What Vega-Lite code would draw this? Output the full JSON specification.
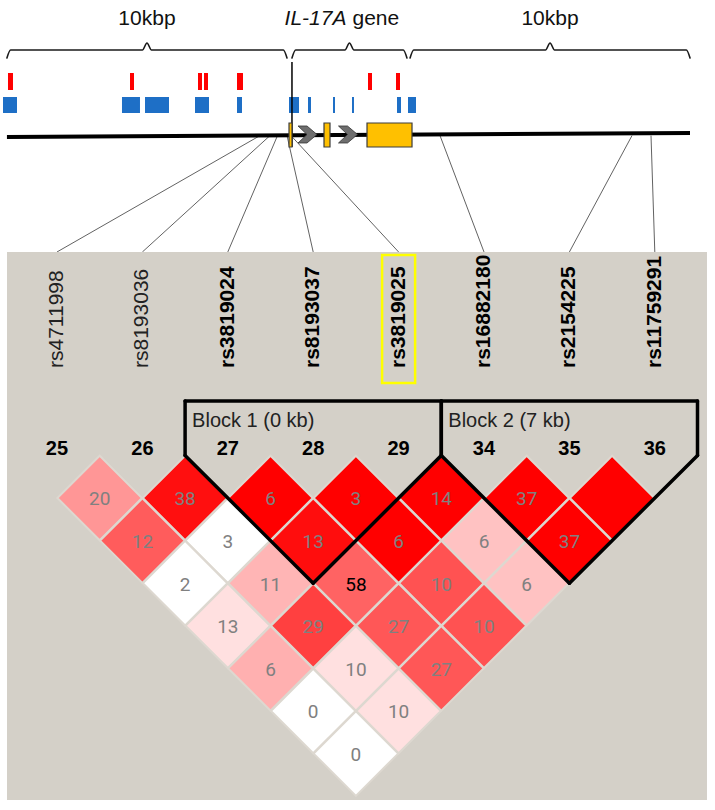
{
  "$schema": "https://vega.github.io/schema/vega-lite/v6.json",
  "width": 715,
  "height": 810,
  "autosize": {"type": "none"},
  "padding": 0,
  "background": "white",
  "config": {"view": {"stroke": null}, "font": "Liberation Sans"},
  "datasets": {
    "regions": [
      {"region": "upstream", "label": "10kbp", "symbol": "", "start": -10.02, "end": -0.106},
      {"region": "gene", "label": "IL-17A gene", "symbol": "IL-17A", "start": 0.07, "end": 4.14},
      {"region": "downstream", "label": "10kbp", "symbol": "", "start": 4.25, "end": 14.16}
    ],
    "features": [
      {"type": "snp", "start": -9.982, "end": -9.805},
      {"type": "snp", "start": -5.664, "end": -5.522},
      {"type": "snp", "start": -3.257, "end": -3.115},
      {"type": "snp", "start": -3.044, "end": -2.903},
      {"type": "snp", "start": -1.876, "end": -1.664},
      {"type": "snp", "start": 2.761, "end": 2.903},
      {"type": "snp", "start": 3.752, "end": 3.894},
      {"type": "element", "start": -10.159, "end": -9.664},
      {"type": "element", "start": -5.947, "end": -5.31},
      {"type": "element", "start": -5.133, "end": -4.283},
      {"type": "element", "start": -3.363, "end": -2.867},
      {"type": "element", "start": -1.876, "end": -1.699},
      {"type": "element", "start": -0.035, "end": 0.319},
      {"type": "element", "start": 0.637, "end": 0.743},
      {"type": "element", "start": 1.522, "end": 1.593},
      {"type": "element", "start": 2.195, "end": 2.265},
      {"type": "element", "start": 3.788, "end": 3.929},
      {"type": "element", "start": 4.177, "end": 4.46}
    ],
    "exons": [
      {"exon": 1, "start": -0.035, "end": 0.071},
      {"exon": 2, "start": 1.204, "end": 1.416},
      {"exon": 3, "start": 2.726, "end": 4.319}
    ],
    "introns": [
      {"intron": 1, "start": 0.071, "end": 1.204},
      {"intron": 2, "start": 1.416, "end": 2.726}
    ],
    "snps": [
      {"idx": 0, "num": 25, "snp": "rs4711998", "kb": -1.062, "block": 0, "focus": false},
      {"idx": 1, "num": 26, "snp": "rs8193036", "kb": -0.708, "block": 0, "focus": false},
      {"idx": 2, "num": 27, "snp": "rs3819024", "kb": -0.442, "block": 1, "focus": false},
      {"idx": 3, "num": 28, "snp": "rs8193037", "kb": -0.106, "block": 1, "focus": false},
      {"idx": 4, "num": 29, "snp": "rs3819025", "kb": 0.035, "block": 1, "focus": true},
      {"idx": 5, "num": 34, "snp": "rs16882180", "kb": 5.31, "block": 2, "focus": false},
      {"idx": 6, "num": 35, "snp": "rs2154225", "kb": 12.106, "block": 2, "focus": false},
      {"idx": 7, "num": 36, "snp": "rs11759291", "kb": 12.779, "block": 2, "focus": false}
    ],
    "blocks": [
      {"block": 1, "label": "Block 1 (0 kb)", "first": 2, "last": 4},
      {"block": 2, "label": "Block 2 (7 kb)", "first": 5, "last": 7}
    ],
    "ld": [
      {"i": 0, "j": 1, "r2": "20", "dprime": 0.41},
      {"i": 1, "j": 2, "r2": "38", "dprime": 0.94},
      {"i": 2, "j": 3, "r2": "6", "dprime": 1},
      {"i": 3, "j": 4, "r2": "3", "dprime": 1},
      {"i": 4, "j": 5, "r2": "14", "dprime": 1},
      {"i": 5, "j": 6, "r2": "37", "dprime": 1},
      {"i": 6, "j": 7, "r2": "", "dprime": 1},
      {"i": 0, "j": 2, "r2": "12", "dprime": 0.64},
      {"i": 1, "j": 3, "r2": "3", "dprime": 0},
      {"i": 2, "j": 4, "r2": "13", "dprime": 0.95},
      {"i": 3, "j": 5, "r2": "6", "dprime": 1},
      {"i": 4, "j": 6, "r2": "6", "dprime": 0.24},
      {"i": 5, "j": 7, "r2": "37", "dprime": 1},
      {"i": 0, "j": 3, "r2": "2", "dprime": 0},
      {"i": 1, "j": 4, "r2": "11", "dprime": 0.29},
      {"i": 2, "j": 5, "r2": "58", "dprime": 0.61},
      {"i": 3, "j": 6, "r2": "10", "dprime": 0.68},
      {"i": 4, "j": 7, "r2": "6", "dprime": 0.24},
      {"i": 0, "j": 4, "r2": "13", "dprime": 0.12},
      {"i": 1, "j": 5, "r2": "29", "dprime": 0.75},
      {"i": 2, "j": 6, "r2": "27", "dprime": 0.66},
      {"i": 3, "j": 7, "r2": "10", "dprime": 0.68},
      {"i": 0, "j": 5, "r2": "6", "dprime": 0.31},
      {"i": 1, "j": 6, "r2": "10", "dprime": 0.12},
      {"i": 2, "j": 7, "r2": "27", "dprime": 0.66},
      {"i": 0, "j": 6, "r2": "0", "dprime": 0},
      {"i": 1, "j": 7, "r2": "10", "dprime": 0.12},
      {"i": 0, "j": 7, "r2": "0", "dprime": 0}
    ]
  },
  "layer": [
    {
      "layer": [
        {
          "data": {"name": "regions"},
          "transform": [
            {"calculate": "(datum.start + datum.end) / 2", "as": "mid"},
            {"calculate": "[datum.start, datum.start + 0.13, datum.mid - 0.16, datum.mid, datum.mid + 0.16, datum.end - 0.13, datum.end]", "as": "bx"},
            {"calculate": "[-9.329, -9.516, -9.516, -9.681, -9.516, -9.516, -9.329]", "as": "by"},
            {"flatten": ["bx", "by"]}
          ],
          "mark": {"type": "line", "color": "#1a1a1a", "strokeWidth": 1.6, "interpolate": "monotone", "strokeCap": "round"},
          "encoding": {
            "x": {"field": "bx", "type": "quantitative", "scale": {"domain": [-10.265, 15.044], "nice": false, "zero": false}, "axis": null},
            "y": {"field": "by", "type": "quantitative", "scale": {"domain": [-10.69, 8.324], "reverse": true, "nice": false, "zero": false}, "axis": null},
            "detail": {"field": "region", "type": "nominal"}
          }
        },
        {
          "data": {"name": "regions"},
          "transform": [{"calculate": "-10.103", "as": "yt"}, {"calculate": "(datum.start + datum.end) / 2", "as": "mid"}],
          "layer": [
            {
              "transform": [{"filter": "datum.region !== 'gene'"}],
              "mark": {"type": "text", "fontSize": 21, "color": "#111111", "align": "center", "baseline": "alphabetic"},
              "encoding": {
                "x": {"field": "mid", "type": "quantitative", "scale": {"domain": [-10.265, 15.044], "nice": false, "zero": false}, "axis": null},
                "y": {"field": "yt", "type": "quantitative", "scale": {"domain": [-10.69, 8.324], "reverse": true, "nice": false, "zero": false}, "axis": null},
                "text": {"field": "label", "type": "nominal"}
              }
            },
            {
              "transform": [{"filter": "datum.region === 'gene'"}],
              "mark": {"type": "text", "fontSize": 21, "fontStyle": "italic", "color": "#111111", "align": "right", "baseline": "alphabetic", "dx": -3},
              "encoding": {
                "x": {"field": "mid", "type": "quantitative", "scale": {"domain": [-10.265, 15.044], "nice": false, "zero": false}, "axis": null},
                "y": {"field": "yt", "type": "quantitative", "scale": {"domain": [-10.69, 8.324], "reverse": true, "nice": false, "zero": false}, "axis": null},
                "text": {"field": "symbol", "type": "nominal"}
              }
            },
            {
              "transform": [{"filter": "datum.region === 'gene'"}],
              "mark": {"type": "text", "fontSize": 21, "color": "#111111", "align": "left", "baseline": "alphabetic", "dx": 3, "text": "gene"},
              "encoding": {
                "x": {"field": "mid", "type": "quantitative", "scale": {"domain": [-10.265, 15.044], "nice": false, "zero": false}, "axis": null},
                "y": {"field": "yt", "type": "quantitative", "scale": {"domain": [-10.69, 8.324], "reverse": true, "nice": false, "zero": false}, "axis": null}
              }
            }
          ]
        },
        {
          "data": {"name": "features"},
          "transform": [{"filter": "datum.type === 'snp'"}, {"calculate": "-8.976", "as": "y0"}, {"calculate": "-8.577", "as": "y1"}],
          "mark": {"type": "rect", "color": "#FF0000"},
          "encoding": {
            "x": {"field": "start", "type": "quantitative", "scale": {"domain": [-10.265, 15.044], "nice": false, "zero": false}, "axis": null},
            "x2": {"field": "end"},
            "y": {"field": "y0", "type": "quantitative", "scale": {"domain": [-10.69, 8.324], "reverse": true, "nice": false, "zero": false}, "axis": null},
            "y2": {"field": "y1"}
          }
        },
        {
          "data": {"name": "features"},
          "transform": [{"filter": "datum.type === 'element'"}, {"calculate": "-8.413", "as": "y0"}, {"calculate": "-8.038", "as": "y1"}],
          "mark": {"type": "rect", "color": "#1E6FC6"},
          "encoding": {
            "x": {"field": "start", "type": "quantitative", "scale": {"domain": [-10.265, 15.044], "nice": false, "zero": false}, "axis": null},
            "x2": {"field": "end"},
            "y": {"field": "y0", "type": "quantitative", "scale": {"domain": [-10.69, 8.324], "reverse": true, "nice": false, "zero": false}, "axis": null},
            "y2": {"field": "y1"}
          }
        },
        {
          "data": {"name": "snps"},
          "transform": [{"calculate": "-8.2478 + 3.02301 * datum.idx", "as": "labelPos"}, {"calculate": "-7.507", "as": "y0"}, {"calculate": "-4.775", "as": "y1"}],
          "mark": {"type": "rule", "color": "#3a3a3a", "strokeWidth": 0.8},
          "encoding": {
            "x": {"field": "kb", "type": "quantitative", "scale": {"domain": [-10.265, 15.044], "nice": false, "zero": false}, "axis": null},
            "x2": {"field": "labelPos"},
            "y": {"field": "y0", "type": "quantitative", "scale": {"domain": [-10.69, 8.324], "reverse": true, "nice": false, "zero": false}, "axis": null},
            "y2": {"field": "y1"}
          }
        },
        {
          "data": {"name": "regions"},
          "transform": [
            {"joinaggregate": [{"op": "min", "field": "start", "as": "lineStart"}, {"op": "max", "field": "end", "as": "lineEnd"}]},
            {"filter": "datum.region === 'gene'"},
            {"calculate": "-7.474", "as": "y0"}, {"calculate": "-7.568", "as": "y1"}
          ],
          "mark": {"type": "rule", "color": "#000000", "strokeWidth": 4},
          "encoding": {
            "x": {"field": "lineStart", "type": "quantitative", "scale": {"domain": [-10.265, 15.044], "nice": false, "zero": false}, "axis": null},
            "x2": {"field": "lineEnd"},
            "y": {"field": "y0", "type": "quantitative", "scale": {"domain": [-10.69, 8.324], "reverse": true, "nice": false, "zero": false}, "axis": null},
            "y2": {"field": "y1"}
          }
        },
        {
          "data": {"name": "regions"},
          "transform": [{"filter": "datum.region === 'gene'"}, {"calculate": "-9.235", "as": "y0"}, {"calculate": "-7.239", "as": "y1"}],
          "mark": {"type": "rule", "color": "#000000", "strokeWidth": 1.5},
          "encoding": {
            "x": {"field": "start", "type": "quantitative", "scale": {"domain": [-10.265, 15.044], "nice": false, "zero": false}, "axis": null},
            "y": {"field": "y0", "type": "quantitative", "scale": {"domain": [-10.69, 8.324], "reverse": true, "nice": false, "zero": false}, "axis": null},
            "y2": {"field": "y1"}
          }
        },
        {
          "data": {"name": "exons"},
          "transform": [{"calculate": "-7.803", "as": "y0"}, {"calculate": "-7.239", "as": "y1"}],
          "mark": {"type": "rect", "fill": "#FFC000", "stroke": "#3C3C3C", "strokeWidth": 1.2},
          "encoding": {
            "x": {"field": "start", "type": "quantitative", "scale": {"domain": [-10.265, 15.044], "nice": false, "zero": false}, "axis": null},
            "x2": {"field": "end"},
            "y": {"field": "y0", "type": "quantitative", "scale": {"domain": [-10.69, 8.324], "reverse": true, "nice": false, "zero": false}, "axis": null},
            "y2": {"field": "y1"}
          }
        },
        {
          "data": {"name": "introns"},
          "transform": [{"calculate": "(datum.start + datum.end) / 2", "as": "mid"}, {"calculate": "-7.533", "as": "y0"}],
          "mark": {"type": "point", "shape": "M-1,-0.85L-0.1,-0.85L0.9,0L-0.1,0.85L-1,0.85L-0.1,0Z", "size": 400, "filled": true, "opacity": 1, "fill": "#6E6E6E", "stroke": "#333333", "strokeWidth": 0.8},
          "encoding": {
            "x": {"field": "mid", "type": "quantitative", "scale": {"domain": [-10.265, 15.044], "nice": false, "zero": false}, "axis": null},
            "y": {"field": "y0", "type": "quantitative", "scale": {"domain": [-10.69, 8.324], "reverse": true, "nice": false, "zero": false}, "axis": null}
          }
        }
      ]
    },
    {
      "layer": [
        {
          "data": {"values": [{"panel": "LD"}]},
          "transform": [{"calculate": "-0.5855", "as": "x0"}, {"calculate": "7.611", "as": "x1"}, {"calculate": "-4.775", "as": "y0"}, {"calculate": "8.089", "as": "y1"}],
          "mark": {"type": "rect", "color": "#D4D0C8"},
          "encoding": {
            "x": {"field": "x0", "type": "quantitative", "scale": {"domain": [-0.6674, 7.7049], "nice": false, "zero": false}, "axis": null},
            "x2": {"field": "x1"},
            "y": {"field": "y0", "type": "quantitative", "scale": {"domain": [-10.69, 8.324], "reverse": true, "nice": false, "zero": false}, "axis": null},
            "y2": {"field": "y1"}
          }
        },
        {
          "data": {"name": "snps"},
          "transform": [{"filter": "datum.focus"}, {"calculate": "-3.202", "as": "y0"}],
          "mark": {"type": "point", "shape": "M-0.258,-1L0.258,-1L0.258,1L-0.258,1Z", "size": 16384, "filled": false, "opacity": 1, "color": "#FFFF00", "strokeWidth": 2.5},
          "encoding": {
            "x": {"field": "idx", "type": "quantitative", "scale": {"domain": [-0.6674, 7.7049], "nice": false, "zero": false}, "axis": null},
            "y": {"field": "y0", "type": "quantitative", "scale": {"domain": [-10.69, 8.324], "reverse": true, "nice": false, "zero": false}, "axis": null}
          }
        },
        {
          "data": {"name": "snps"},
          "transform": [{"filter": "datum.block === 0"}, {"calculate": "-2.052", "as": "y0"}],
          "mark": {"type": "text", "angle": 270, "align": "left", "baseline": "middle", "fontSize": 21, "color": "#222222"},
          "encoding": {
            "x": {"field": "idx", "type": "quantitative", "scale": {"domain": [-0.6674, 7.7049], "nice": false, "zero": false}, "axis": null},
            "y": {"field": "y0", "type": "quantitative", "scale": {"domain": [-10.69, 8.324], "reverse": true, "nice": false, "zero": false}, "axis": null},
            "text": {"field": "snp", "type": "nominal"}
          }
        },
        {
          "data": {"name": "snps"},
          "transform": [{"filter": "datum.block > 0"}, {"calculate": "-2.052", "as": "y0"}],
          "mark": {"type": "text", "angle": 270, "align": "left", "baseline": "middle", "fontSize": 21, "fontWeight": "bold", "color": "#000000"},
          "encoding": {
            "x": {"field": "idx", "type": "quantitative", "scale": {"domain": [-0.6674, 7.7049], "nice": false, "zero": false}, "axis": null},
            "y": {"field": "y0", "type": "quantitative", "scale": {"domain": [-10.69, 8.324], "reverse": true, "nice": false, "zero": false}, "axis": null},
            "text": {"field": "snp", "type": "nominal"}
          }
        },
        {
          "data": {"name": "snps"},
          "transform": [{"calculate": "-0.15", "as": "y0"}],
          "mark": {"type": "text", "align": "center", "baseline": "middle", "fontSize": 20, "fontWeight": "bold", "color": "#000000"},
          "encoding": {
            "x": {"field": "idx", "type": "quantitative", "scale": {"domain": [-0.6674, 7.7049], "nice": false, "zero": false}, "axis": null},
            "y": {"field": "y0", "type": "quantitative", "scale": {"domain": [-10.69, 8.324], "reverse": true, "nice": false, "zero": false}, "axis": null},
            "text": {"field": "num", "type": "nominal"}
          }
        },
        {
          "data": {"name": "ld"},
          "transform": [
            {"calculate": "(datum.i + datum.j) / 2", "as": "mid"},
            {"calculate": "datum.j - datum.i", "as": "dist"}
          ],
          "layer": [
            {
              "mark": {"type": "point", "shape": "diamond", "size": 7150, "filled": true, "opacity": 1, "stroke": "#DDD8D0", "strokeWidth": 2},
              "encoding": {
                "x": {"field": "mid", "type": "quantitative", "scale": {"domain": [-0.6674, 7.7049], "nice": false, "zero": false}, "axis": null},
                "y": {"field": "dist", "type": "quantitative", "scale": {"domain": [-10.69, 8.324], "reverse": true, "nice": false, "zero": false}, "axis": null},
                "fill": {"field": "dprime", "type": "quantitative", "scale": {"domain": [0, 1], "range": ["#FFFFFF", "#FF0000"], "interpolate": "rgb"}, "legend": null}
              }
            },
            {
              "mark": {"type": "text", "font": "Roboto", "fontSize": 19, "align": "center", "baseline": "middle", "dy": 1.5},
              "encoding": {
                "x": {"field": "mid", "type": "quantitative", "scale": {"domain": [-0.6674, 7.7049], "nice": false, "zero": false}, "axis": null},
                "y": {"field": "dist", "type": "quantitative", "scale": {"domain": [-10.69, 8.324], "reverse": true, "nice": false, "zero": false}, "axis": null},
                "text": {"field": "r2", "type": "nominal"},
                "color": {"condition": {"test": "toNumber(datum.r2) >= 50", "value": "#000000"}, "value": "#808080"}
              }
            }
          ]
        },
        {
          "data": {"name": "blocks"},
          "transform": [
            {"calculate": "datum.first - 0.5", "as": "left"},
            {"calculate": "datum.last + 0.5", "as": "right"},
            {"calculate": "(datum.first + datum.last) / 2", "as": "mid"},
            {"calculate": "datum.last - datum.first + 1", "as": "depth"},
            {"calculate": "-1.277", "as": "top"},
            {"calculate": "0", "as": "base"},
            {"calculate": "-0.815", "as": "labelY"}
          ],
          "layer": [
            {
              "mark": {"type": "text", "align": "left", "baseline": "middle", "fontSize": 20, "color": "#222222", "dx": 7},
              "encoding": {
                "x": {"field": "left", "type": "quantitative", "scale": {"domain": [-0.6674, 7.7049], "nice": false, "zero": false}, "axis": null},
                "y": {"field": "labelY", "type": "quantitative", "scale": {"domain": [-10.69, 8.324], "reverse": true, "nice": false, "zero": false}, "axis": null},
                "text": {"field": "label", "type": "nominal"}
              }
            },
            {
              "mark": {"type": "rule", "color": "#000000", "strokeWidth": 3.5, "strokeCap": "round"},
              "encoding": {
                "x": {"field": "left", "type": "quantitative", "scale": {"domain": [-0.6674, 7.7049], "nice": false, "zero": false}, "axis": null},
                "x2": {"field": "right"},
                "y": {"field": "top", "type": "quantitative", "scale": {"domain": [-10.69, 8.324], "reverse": true, "nice": false, "zero": false}, "axis": null}
              }
            },
            {
              "mark": {"type": "rule", "color": "#000000", "strokeWidth": 3.5, "strokeCap": "round"},
              "encoding": {
                "x": {"field": "left", "type": "quantitative", "scale": {"domain": [-0.6674, 7.7049], "nice": false, "zero": false}, "axis": null},
                "y": {"field": "top", "type": "quantitative", "scale": {"domain": [-10.69, 8.324], "reverse": true, "nice": false, "zero": false}, "axis": null},
                "y2": {"field": "base"}
              }
            },
            {
              "mark": {"type": "rule", "color": "#000000", "strokeWidth": 3.5, "strokeCap": "round"},
              "encoding": {
                "x": {"field": "right", "type": "quantitative", "scale": {"domain": [-0.6674, 7.7049], "nice": false, "zero": false}, "axis": null},
                "y": {"field": "top", "type": "quantitative", "scale": {"domain": [-10.69, 8.324], "reverse": true, "nice": false, "zero": false}, "axis": null},
                "y2": {"field": "base"}
              }
            },
            {
              "mark": {"type": "rule", "color": "#000000", "strokeWidth": 3.5, "strokeCap": "round"},
              "encoding": {
                "x": {"field": "left", "type": "quantitative", "scale": {"domain": [-0.6674, 7.7049], "nice": false, "zero": false}, "axis": null},
                "x2": {"field": "mid"},
                "y": {"field": "base", "type": "quantitative", "scale": {"domain": [-10.69, 8.324], "reverse": true, "nice": false, "zero": false}, "axis": null},
                "y2": {"field": "depth"}
              }
            },
            {
              "mark": {"type": "rule", "color": "#000000", "strokeWidth": 3.5, "strokeCap": "round"},
              "encoding": {
                "x": {"field": "mid", "type": "quantitative", "scale": {"domain": [-0.6674, 7.7049], "nice": false, "zero": false}, "axis": null},
                "x2": {"field": "right"},
                "y": {"field": "depth", "type": "quantitative", "scale": {"domain": [-10.69, 8.324], "reverse": true, "nice": false, "zero": false}, "axis": null},
                "y2": {"field": "base"}
              }
            }
          ]
        }
      ]
    }
  ],
  "resolve": {"scale": {"x": "independent"}}
}
